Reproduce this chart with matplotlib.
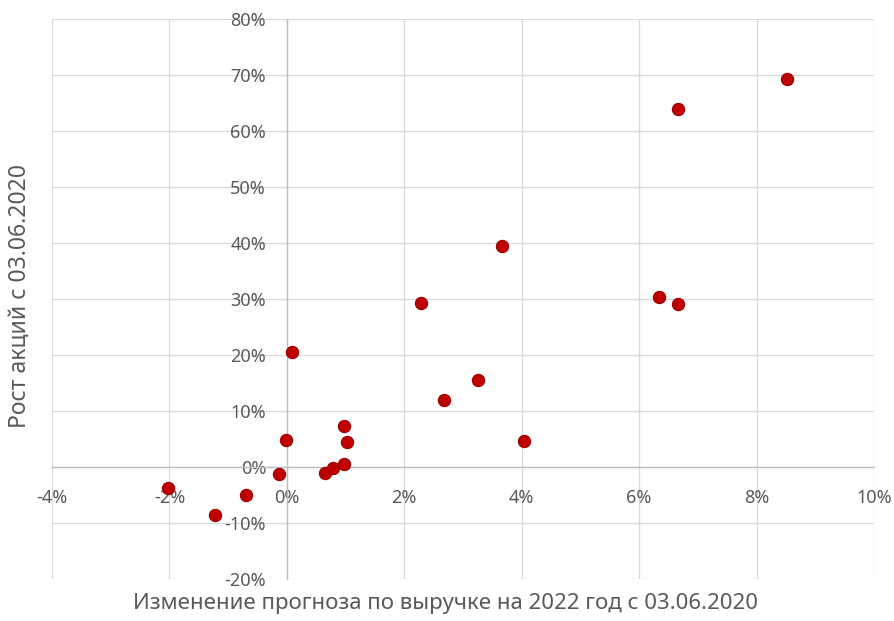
import matplotlib
matplotlib.use('Agg')
import matplotlib.pyplot as plt
from matplotlib.ticker import FuncFormatter, MultipleLocator

plt.rcParams['font.family'] = ['Noto Sans', 'DejaVu Sans']

# изменение прогноза выручки (%) и рост акций (%)
revenue_change = [-2.02, -1.23, -0.70, -0.13, -0.02, 0.08, 0.65, 0.78, 0.97, 0.97,
                  1.02, 2.28, 2.68, 3.26, 3.67, 4.04, 6.34, 6.67, 6.67, 8.52]
stock_growth = [-3.7, -8.5, -5.0, -1.2, 4.9, 20.5, -1.0, -0.1, 0.6, 7.4,
                4.5, 29.2, 11.9, 15.6, 39.5, 4.7, 30.4, 29.1, 63.9, 69.3]

x_title = 'Изменение прогноза по выручке на 2022 год с 03.06.2020'
y_title = 'Рост акций с 03.06.2020'

GRAY_TEXT = '#595959'

fig = plt.figure(figsize=(8.95, 6.21), dpi=100)
ax = fig.add_axes([52 / 895, 1 - 579 / 621, (874 - 52) / 895, (579 - 19) / 621])

ax.scatter(revenue_change, stock_growth, s=78, color='#c00000',
           edgecolors='#9a0000', linewidths=0.8, zorder=3)

ax.set_xlim(-4, 10)
ax.set_ylim(-20, 80)
ax.xaxis.set_major_locator(MultipleLocator(2))
ax.yaxis.set_major_locator(MultipleLocator(10))
pct = FuncFormatter(lambda v, pos: '%d%%' % round(v))
ax.xaxis.set_major_formatter(pct)
ax.yaxis.set_major_formatter(pct)

ax.grid(True, color='#d9d9d9', linewidth=0.9, zorder=0)
ax.set_axisbelow(True)

for side in ['top', 'right']:
    ax.spines[side].set_visible(False)
ax.spines['left'].set_position(('data', 0))
ax.spines['bottom'].set_position(('data', 0))
for side in ['left', 'bottom']:
    ax.spines[side].set_color('#bfbfbf')
    ax.spines[side].set_linewidth(1.0)
    ax.spines[side].set_zorder(1)

ax.tick_params(axis='both', length=0, labelsize=13, labelcolor=GRAY_TEXT)
ax.tick_params(axis='y', pad=15)
ax.tick_params(axis='x', pad=16)

fig.text(446 / 895, 1 - 604 / 621, x_title, ha='center', va='center',
         fontsize=16, color=GRAY_TEXT)
fig.text(20 / 895, 1 - 296 / 621, y_title, ha='center', va='center',
         rotation=90, fontsize=16.5, color=GRAY_TEXT)

fig.savefig('out.png', dpi=100)
